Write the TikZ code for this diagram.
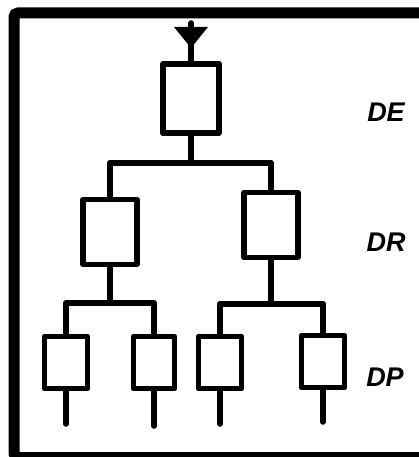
\documentclass[tikz,border=0pt]{standalone}
\usepackage{fontspec}
\setmainfont{Liberation Sans}
\usepackage{tikz}
\usepackage[compat=1.1.0]{tikz-feynman}

\tikzfeynmanset{
  wire/.style={plain, /tikz/line width=5.5pt, /tikz/line cap=round},
  unit/.style={/tikz/draw, /tikz/rectangle, /tikz/line width=5.5pt, /tikz/line join=round, /tikz/inner sep=0pt},
  tier/.style={/tikz/font=\fontsize{27}{27}\selectfont\bfseries\itshape},
}

\begin{document}
\begin{tikzpicture}[x=1pt, y=-1pt]
  \clip (0,0) rectangle (419,457);
  % frame
  \draw[line width=11pt, rounded corners=4pt] (14,13) rectangle (425.2,457.5);
  % antenna
  \fill (174,27) -- (208,27) -- (191,48) -- cycle;
  \begin{feynman}
    \vertex (ant) at (191,23);
    \vertex[unit, minimum width=56pt, minimum height=69pt] (de) at (191,98.5) {};
    \vertex[unit, minimum width=54pt, minimum height=65pt] (dra) at (110,232) {};
    \vertex[unit, minimum width=54pt, minimum height=65pt] (drb) at (271,225) {};
    \vertex[unit, minimum width=43pt, minimum height=52pt] (dpa) at (66,362.5) {};
    \vertex[unit, minimum width=41pt, minimum height=52pt] (dpb) at (154,362.5) {};
    \vertex[unit, minimum width=43pt, minimum height=52pt] (dpc) at (220,362.5) {};
    \vertex[unit, minimum width=43pt, minimum height=52pt] (dpd) at (323,361.5) {};

    \vertex (ja) at (191,163);
    \vertex (jl) at (110,163);
    \vertex (jr) at (271,163);
    \vertex (jm) at (110,303);
    \vertex (jma) at (66,303);
    \vertex (jmb) at (154,303);
    \vertex (jn) at (271,304);
    \vertex (jna) at (220,304);
    \vertex (jnb) at (323,304);

    \vertex (ta) at (66,424);
    \vertex (tb) at (154,426);
    \vertex (tc) at (220,424);
    \vertex (td) at (323,422);

    \vertex[tier] (lde) at (386,112) {DE};
    \vertex[tier] (ldr) at (386,242) {DR};
    \vertex[tier] (ldp) at (385,377) {DP};

    \diagram*{
      (ant) -- [wire] (de) -- [wire] (ja),
      (jl) -- [wire] (jr),
      (jl) -- [wire] (dra) -- [wire] (jm),
      (jr) -- [wire] (drb) -- [wire] (jn),
      (jma) -- [wire] (jmb),
      (jna) -- [wire] (jnb),
      (jma) -- [wire] (dpa) -- [wire] (ta),
      (jmb) -- [wire] (dpb) -- [wire] (tb),
      (jna) -- [wire] (dpc) -- [wire] (tc),
      (jnb) -- [wire] (dpd) -- [wire] (td),
    };
  \end{feynman}
\end{tikzpicture}
\end{document}
